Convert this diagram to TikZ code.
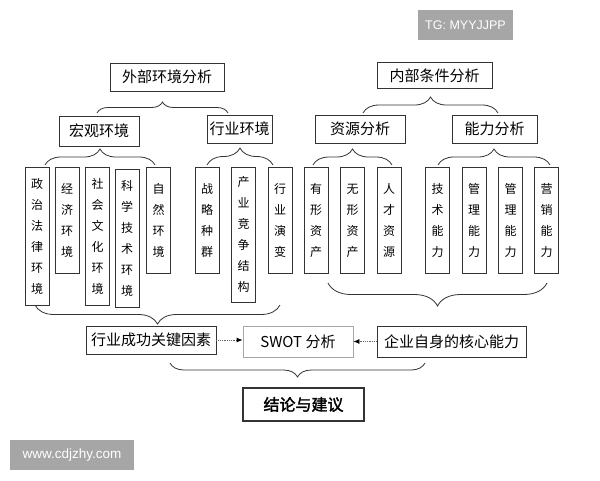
\documentclass[tikz,border=0pt]{standalone}
\usepackage{fontspec}
\setmainfont{Noto Sans CJK SC}[AutoFakeBold=2]
\newfontfamily\wmfont{Liberation Sans}
\usetikzlibrary{decorations.pathreplacing,arrows.meta}
\tikzset{
  hbox/.style={draw=black!80, line width=0.8pt, inner sep=0pt, font=\fontsize{15}{17}\selectfont},
  vbox/.style={draw=black!80, line width=0.8pt, inner sep=0pt, anchor=north, minimum width=24pt,
    minimum height=#1, align=center, font=\fontsize{12}{21}\selectfont},
  vbox/.default=106pt,
  brc/.style={decorate, decoration={brace, amplitude=#1}, line width=0.8pt, black!80},
  brcdown/.style={decorate, decoration={brace, mirror, amplitude=#1}, line width=0.8pt, black!80},
  wm/.style={fill=black!35, text=white, inner sep=0pt}
}
\begin{document}
\begin{tikzpicture}[x=1pt,y=-1pt]
\useasboundingbox (0,0) rectangle (600,480);

\node[hbox, minimum width=114pt, minimum height=28pt] (ext) at (167,77) {外部环境分析};
\node[hbox, minimum width=115pt, minimum height=26pt] (int) at (434.5,75.5) {内部条件分析};

\node[hbox, minimum width=80pt, minimum height=30pt] (macro) at (99,131) {宏观环境};
\node[hbox, minimum width=65pt, minimum height=28pt] (indus) at (239.5,129) {行业环境};
\node[hbox, minimum width=90pt, minimum height=28pt] (res) at (360,129) {资源分析};
\node[hbox, minimum width=85pt, minimum height=28pt] (cap) at (494.5,129) {能力分析};

\draw[brc=11pt] (97,113) -- (228,113);
\draw[brc=16pt] (363,113) -- (498,113);
\draw[brc=16pt] (45,165) -- (155,165);
\draw[brc=17pt] (207,165) -- (273,165);
\draw[brc=16pt] (313,165) -- (392,165);
\draw[brc=16pt] (438,165) -- (550,165);

\node[vbox=138pt] (pol) at (37,167) {政\\治\\法\\律\\环\\境};
\node[vbox] (eco) at (67,167) {经\\济\\环\\境};
\node[vbox=138pt] (soc) at (97.5,167) {社\\会\\文\\化\\环\\境};
\node[vbox=138pt] (tech) at (127,169) {科\\学\\技\\术\\环\\境};
\node[vbox] (nat) at (158.5,167) {自\\然\\环\\境};
\node[vbox] (grp) at (207,167) {战\\略\\种\\群};
\node[vbox=135pt] (comp) at (243.5,167) {产\\业\\竞\\争\\结\\构};
\node[vbox] (evo) at (280,167) {行\\业\\演\\变};

\node[vbox] (tang) at (316,167) {有\\形\\资\\产};
\node[vbox] (intang) at (352.5,167) {无\\形\\资\\产};
\node[vbox] (talent) at (389,167) {人\\才\\资\\源};
\node[vbox] (skill) at (437.5,167) {技\\术\\能\\力};
\node[vbox] (mgmtA) at (474,167) {管\\理\\能\\力};
\node[vbox] (mgmtB) at (510.5,167) {管\\理\\能\\力};
\node[vbox] (mkt) at (546.5,167) {营\\销\\能\\力};

\draw[brcdown=19pt] (35,305) -- (280,305);
\draw[brcdown=23pt] (328,283) -- (547,283);

\node[hbox, minimum width=130pt, minimum height=28pt] (ksf) at (151,340) {行业成功关键因素};
\node[hbox, draw=black!35, minimum width=110pt, minimum height=31pt] (swot) at (298,341.5) {SWOT 分析};
\node[hbox, minimum width=149pt, minimum height=31pt] (core) at (451.5,341.5) {企业自身的核心能力};

\draw[black!60, densely dotted, line width=0.8pt, -{Latex[length=6pt,width=5pt,black]}] (ksf.east) -- (ksf.east -| swot.west);
\draw[black!60, densely dotted, line width=0.8pt, -{Latex[length=6pt,width=5pt,black]}] (core.west) -- (core.west -| swot.east);

\draw[brcdown=14pt] (170,363) -- (425,363);

\node[hbox, line width=1.3pt, minimum width=121pt, minimum height=33pt, font=\fontsize{16}{18}\selectfont\bfseries] (concl) at (303.5,404.5) {结论与建议};

\node[wm, minimum width=95pt, minimum height=30pt, font=\wmfont\fontsize{12.5}{14}\selectfont] (tg) at (465.5,25) {TG: MYYJJPP};
\node[wm, minimum width=124pt, minimum height=30pt, font=\wmfont\fontsize{13.5}{15}\selectfont] (web) at (72,455) {www.cdjzhy.com};
\end{tikzpicture}
\end{document}
